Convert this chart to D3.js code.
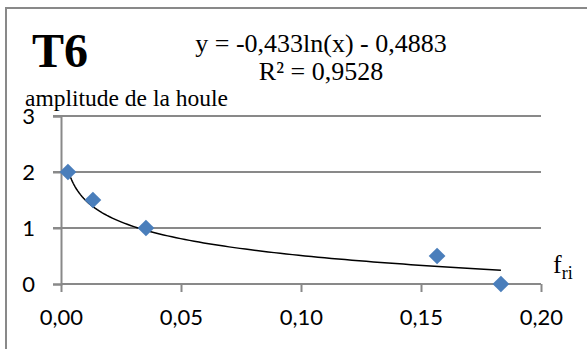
<!DOCTYPE html>
<html>
<head>
<meta charset="utf-8">
<script src="https://cdn.jsdelivr.net/npm/d3@7"></script>
<style>
  body { margin: 0; background: white; }
  svg { display: block; }
</style>
</head>
<body>
<div id="chart"></div>
<script>
// data
const fri = [0.0029, 0.0133, 0.0354, 0.1567, 0.1833];
const amplitude = [2, 1.5, 1, 0.5, 0];
const xTicks = [0, 0.05, 0.10, 0.15, 0.20];
const yTicks = [0, 1, 2, 3];
// trendline shown on the chart: y = -0,433ln(x) - 0,4883
const trendA = -0.433, trendB = -0.4883;

const W = 587, H = 349;
const margin = {top: 116, right: 46, bottom: 65, left: 61};
const width = W - margin.left - margin.right;
const height = H - margin.top - margin.bottom;
const gray = "#898989";

const svg = d3.select("#chart").append("svg")
  .attr("width", W)
  .attr("height", H);

svg.append("rect").attr("width", W).attr("height", H).attr("fill", "white");

// outer chart frame (cropped on right and bottom)
svg.append("path")
  .attr("d", "M6," + (H + 2) + "V8H" + (W + 2))
  .attr("fill", "none")
  .attr("stroke", gray)
  .attr("stroke-width", 2);

const g = svg.append("g")
  .attr("transform", "translate(" + margin.left + "," + margin.top + ")");

const x = d3.scaleLinear().domain([0, 0.20]).range([0, width]);
const y = d3.scaleLinear().domain([0, 3]).range([height, 0]);

const fmt = d => d3.format(".2f")(d).replace(".", ",");

// gridlines
g.append("g")
  .selectAll("line")
  .data(yTicks.filter(d => d > 0))
  .join("line")
  .attr("x1", -8).attr("x2", width)
  .attr("y1", d => y(d)).attr("y2", d => y(d))
  .attr("stroke", gray).attr("stroke-width", 2);

// y axis
const yAxis = g.append("g")
  .call(d3.axisLeft(y).tickValues(yTicks).tickSize(8).tickPadding(18).tickFormat(d3.format("d")));
yAxis.select(".domain").attr("stroke", gray).attr("stroke-width", 2);
yAxis.selectAll(".tick line").attr("stroke", gray).attr("stroke-width", 2);
yAxis.selectAll("text")
  .attr("font-family", "Lato, sans-serif")
  .attr("font-size", 22)
  .attr("fill", "#000");

// x axis
const xAxis = g.append("g")
  .attr("transform", "translate(0," + height + ")")
  .call(d3.axisBottom(x).tickValues(xTicks).tickSize(8).tickPadding(17).tickFormat(fmt));
xAxis.select(".domain").attr("d", "M0,0H" + width).attr("stroke", gray).attr("stroke-width", 2);
xAxis.selectAll(".tick line").attr("stroke", gray).attr("stroke-width", 2);
xAxis.selectAll("text")
  .attr("font-family", "Lato, sans-serif")
  .attr("font-size", 22)
  .attr("fill", "#000");

// trendline
const trendX = d3.range(0, 101).map(i => fri[0] + (fri[fri.length - 1] - fri[0]) * Math.pow(i / 100, 2));
g.append("path")
  .datum(trendX)
  .attr("fill", "none")
  .attr("stroke", "#000")
  .attr("stroke-width", 1.5)
  .attr("d", d3.line().x(d => x(d)).y(d => y(trendA * Math.log(d) + trendB)));

// points
g.append("g")
  .selectAll("path")
  .data(fri.map((d, i) => [d, amplitude[i]]))
  .join("path")
  .attr("d", d3.symbol(d3.symbolSquare, 140))
  .attr("transform", d => "translate(" + x(d[0]) + "," + y(d[1]) + ") rotate(45)")
  .attr("fill", "#4a7ebb");

// texts
svg.append("text")
  .attr("x", 32).attr("y", 67)
  .attr("font-family", "'Liberation Serif', 'Times New Roman', serif")
  .attr("font-weight", "bold")
  .attr("font-size", 48)
  .text("T6");

const eq = svg.append("text")
  .attr("font-family", "'Liberation Serif', 'Times New Roman', serif")
  .attr("font-size", 26)
  .attr("text-anchor", "middle");
eq.append("tspan").attr("x", 321).attr("y", 52).text("y = -0,433ln(x) - 0,4883");
eq.append("tspan").attr("x", 321).attr("y", 80).text("R² = 0,9528");

svg.append("text")
  .attr("x", 25).attr("y", 106)
  .attr("font-family", "'Liberation Serif', 'Times New Roman', serif")
  .attr("font-size", 23.5)
  .text("amplitude de la houle");

const xt = svg.append("text")
  .attr("x", 553).attr("y", 273)
  .attr("font-family", "'Liberation Serif', 'Times New Roman', serif")
  .attr("font-size", 26)
  .text("f");
xt.append("tspan").attr("dy", 6).attr("font-size", 18).text("ri");
</script>
</body>
</html>
